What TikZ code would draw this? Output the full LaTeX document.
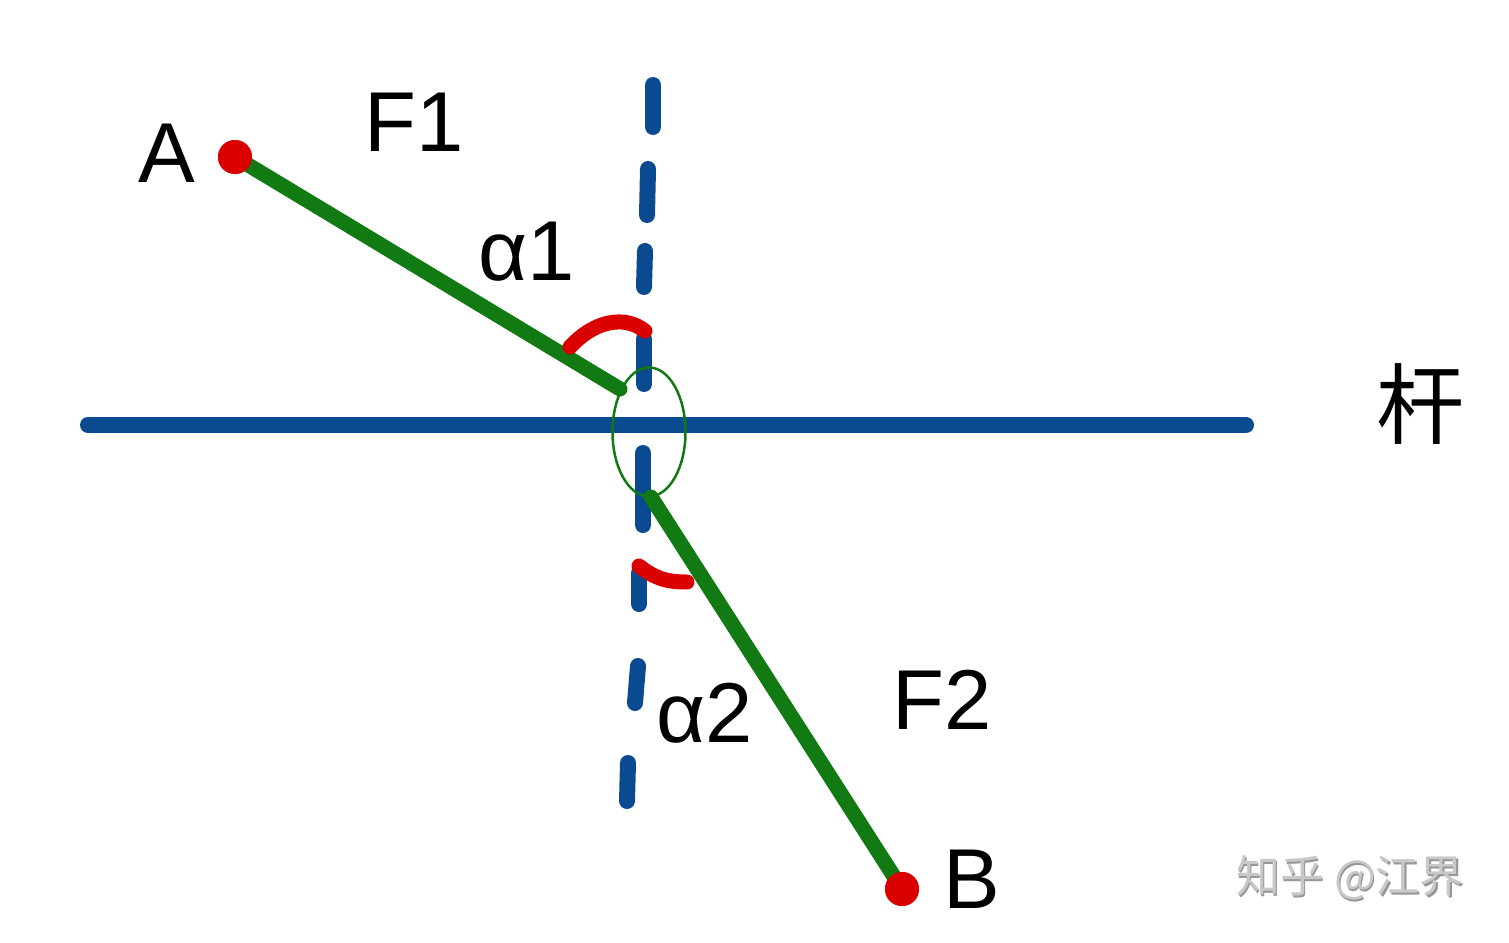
\documentclass[tikz,border=0pt]{standalone}
\usepackage{fontspec}
\setmainfont{Liberation Sans}
\newfontfamily\cjk{Noto Sans CJK SC}
\usetikzlibrary{shapes.geometric}
\definecolor{rodblue}{RGB}{10,74,145}
\definecolor{forcegreen}{RGB}{18,122,18}
\definecolor{anglered}{RGB}{218,0,0}
\definecolor{wmgrey}{RGB}{200,200,200}
\definecolor{wmshadow}{RGB}{150,150,150}
\begin{document}
\begin{tikzpicture}[x=1pt,y=-1pt,
  rod/.style={rodblue,line width=16pt,line cap=round},
  dashseg/.style={rodblue,line width=16pt,line cap=round},
  force/.style={forcegreen,line width=15pt,line cap=round},
  anglearc/.style={anglered,line width=15pt,line cap=round},
  pt/.style={circle,fill=anglered,inner sep=0pt,minimum size=34pt},
  lbl/.style={font=\fontsize{85}{100}\selectfont,inner sep=0pt},
  wm/.style={inner sep=0pt,font=\cjk\fontsize{44}{50}\selectfont},
]
\useasboundingbox (0,0) rectangle (1509,942);
% rod
\coordinate (rodL) at (88,425);
\coordinate (rodR) at (1246,425);
\draw[rod] (rodL) -- (rodR);
% dashed normal
\foreach \xa/\ya/\xb/\yb in {653/85/653/127, 648/169/647/215, 645/251/644/287, 644/339/644/384, 643/453/643/525, 639/573/639/604, 638/666/635/703, 628/763/627/801}
  \draw[dashseg] (\xa,\ya) -- (\xb,\yb);
% forces
\node[pt] (A) at (235,157) {};
\node[pt] (B) at (902,889) {};
\coordinate (F1end) at (620,389);
\coordinate (F2start) at (651,497);
\draw[force] (A.center) -- (F1end);
\draw[force] (F2start) -- (B.center);
\fill[anglered] (A) circle (17pt);
\fill[anglered] (B) circle (17pt);
% ring
\node[draw=forcegreen,line width=2.5pt,ellipse,minimum width=73pt,minimum height=129pt,inner sep=0pt] (ring) at (649,432) {};
% angle arcs
\coordinate (a1s) at (570,347);
\coordinate (a1e) at (645,331);
\draw[anglearc] (a1s) .. controls (595,320) and (625,315) .. (a1e);
\coordinate (a2s) at (639,566);
\coordinate (a2e) at (687,582);
\draw[anglearc] (a2s) .. controls (655,578) and (665,582) .. (a2e);
% labels
\node[lbl] (lA) at (167,153) {A};
\node[lbl] (lF1) at (414,122) {F1};
\node[lbl] (la1) at (527,252) {α1};
\node[lbl] (la2) at (705,713) {α2};
\node[lbl] (lF2) at (942,700) {F2};
\node[lbl] (lB) at (972,879) {B};
\node[inner sep=0pt,font=\cjk\fontsize{88}{100}\selectfont] (rod) at (1420,404) {杆};
% watermark
\node[wm,text=wmshadow] at (1351.5,879.5) {知乎 @江界};
\node[wm,text=wmgrey] (wmark) at (1350,878) {知乎 @江界};
\end{tikzpicture}
\end{document}
